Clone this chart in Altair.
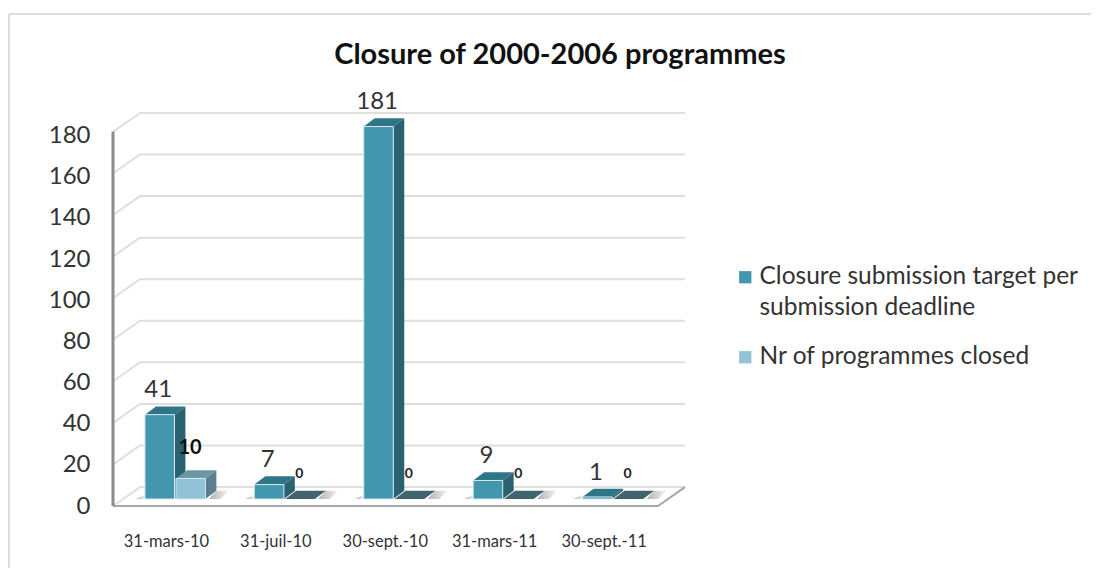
import altair as alt
import pandas as pd

dates = ["31-mars-10", "31-juil-10", "30-sept.-10", "31-mars-11", "30-sept.-11"]
target = [41, 7, 181, 9, 1]
closed = [10, 0, 0, 0, 0]
series_names = ["Closure submission target per submission deadline", "Nr of programmes closed"]
y_ticks = list(range(0, 181, 20))

XD = [-0.484, 4.744]
YD = [0, 190]
BASE = 3.4          # floor height of bar feet
DX, DY = 0.1, 4.0   # depth vector of a bar
BW = 0.27
STARTS = [-0.192, 0.091]
FONT = "Lato"

x_scale = alt.Scale(domain=XD, nice=False, zero=False)
y_scale = alt.Scale(domain=YD, nice=False, zero=False)
X = alt.X("x:Q", scale=x_scale, title=None, axis=alt.Axis(
    values=list(range(len(dates))),
    labelExpr="['" + "','".join(dates) + "'][datum.value]",
    labelFont=FONT, labelFontSize=16.5, labelColor="#333", labelPadding=27,
    ticks=False, domain=False, grid=False))
Y = alt.Y("y:Q", scale=y_scale, title=None, axis=alt.Axis(
    values=y_ticks, labelFont=FONT, labelFontSize=24, labelColor="#333",
    labelPadding=23, ticks=False, domain=False, grid=False))

# walls and floor
GB, GK = 9.2, 1.01
gx0, gx1, gx2 = XD[0], XD[0] + 0.247, XD[1]
grid_rows = []
for v in y_ticks:
    yf = v * GK
    grid_rows += [
        dict(g=v, o=0, x=gx0, y=yf), dict(g=v, o=1, x=gx1, y=yf + GB), dict(g=v, o=2, x=gx2, y=yf + GB)]
grid = alt.Chart(pd.DataFrame(grid_rows)).mark_line(color="#dfdfdf", strokeWidth=2, clip=False).encode(
    x=X, y=Y, detail="g:N", order="o:Q")

floor = pd.DataFrame([
    dict(o=0, x=gx0, y=0), dict(o=1, x=gx2 - 0.247, y=0), dict(o=2, x=gx2, y=GB)])
floor_line = alt.Chart(floor).mark_line(color="#a6a6a6", strokeWidth=2).encode(x=X, y=Y, order="o:Q")
wall = pd.DataFrame([dict(o=0, x=gx0, y=0), dict(o=1, x=gx0, y=182)])
wall_line = alt.Chart(wall).mark_line(color="#8c8c8c", strokeWidth=3).encode(x=X, y=Y, order="o:Q")

# a slanted floor-parallel face: lower edge xa..xb at height ya, shifted back by (dx, dy)
def slanted(b, xa, xb, ya, dx, dy):
    return [dict(b=b, x=xa, y=ya, y2=ya),
            dict(b=b, x=xa + dx, y=ya + dy, y2=ya),
            dict(b=b, x=xb, y=ya + dy, y2=ya),
            dict(b=b, x=xb + dx, y=ya + dy, y2=ya + dy)]

def bars(values, k):
    return [(i, i + STARTS[k], v) for i, v in enumerate(values)]

def side_df(values, k):
    rows = []
    for i, x0, v in bars(values, k):
        if v == 0:
            continue
        x1 = x0 + BW
        rows += [dict(b=i, x=x1, y=BASE + v, y2=BASE),
                 dict(b=i, x=x1 + DX, y=BASE + v + DY, y2=BASE + DY)]
    return pd.DataFrame(rows)

def top_df(values, k, zero=False):
    rows = []
    for i, x0, v in bars(values, k):
        if (v == 0) != zero:
            continue
        rows += slanted(i, x0, x0 + BW, BASE + v, DX, DY)
    return pd.DataFrame(rows)

def front_df(values, k):
    return pd.DataFrame([
        dict(x=x0, x2=x0 + BW, y=BASE + v, y2=BASE, series=series_names[k])
        for i, x0, v in bars(values, k) if v > 0])

def face_layer(df, c):
    return alt.Chart(df).mark_area(color=c, orient="vertical", opacity=1).encode(
        x=X, y=Y, y2="y2:Q", detail="b:N")

fill_domain = series_names
fill_range = ["#4297AF", "#92C3D6"]
def front_layer(values, k):
    return alt.Chart(front_df(values, k)).mark_rect(stroke="#d5e8ee", strokeWidth=1).encode(
        x=X, x2="x2:Q", y=Y, y2="y2:Q",
        color=alt.Color("series:N", scale=alt.Scale(domain=fill_domain, range=fill_range),
            legend=alt.Legend(title=None, orient="none", legendX=620, legendY=150,
                symbolType="square", symbolSize=150, symbolStrokeWidth=0, symbolOpacity=1,
                labelFont=FONT, labelFontSize=24.5, labelColor="#333", labelLimit=400,
                labelOffset=2, rowPadding=24, labelBaseline="middle",
                labelExpr="datum.label == '" + series_names[0] +
                          "' ? ['Closure submission target per', 'submission deadline'] : datum.label")))

# floor shadows
shadow_rows = []
for i in range(len(dates)):
    xa = i + STARTS[1] + BW + 0.03
    shadow_rows += slanted(f"r{i}", xa, xa + 0.11, BASE, 0.07, DY)
    xl = i + STARTS[0]
    shadow_rows += [dict(b=f"l{i}", x=xl - 0.08, y=BASE, y2=BASE),
                    dict(b=f"l{i}", x=xl, y=BASE + 2.2, y2=BASE)]
shadow = alt.Chart(pd.DataFrame(shadow_rows)).mark_area(
    orient="vertical", color=alt.Gradient(gradient="linear", x1=0, x2=1, y1=0, y2=0, stops=[
        alt.GradientStop(offset=0, color="#b0b0b0"), alt.GradientStop(offset=1, color="#f2f2f2")])
).encode(x=X, y=Y, y2="y2:Q", detail="b:N")

# value labels
big = pd.DataFrame([dict(x=i - 0.07, y=BASE + v + (11.8 if v > 1 else 11.5), t=str(v))
                    for i, v in enumerate(target)])
big_text = alt.Chart(big).mark_text(font=FONT, fontSize=24, color="#333").encode(x=X, y=Y, text="t:N")
small = pd.DataFrame([dict(x=i + 0.22, y=BASE + v + 12.2, t=str(v))
                      for i, v in enumerate(closed) if v == 0])
small_text = alt.Chart(small).mark_text(font=FONT, fontSize=14, fontWeight="bold", color="#222").encode(
    x=X, y=Y, text="t:N")
ten = pd.DataFrame([dict(x=i + 0.22, y=BASE + v + 15, t=str(v)) for i, v in enumerate(closed) if v > 0])
ten_text = alt.Chart(ten).mark_text(font=FONT, fontSize=20, fontWeight="bold", color="#111").encode(
    x=X, y=Y, text="t:N")

# outer frame of the original picture
frame_top = alt.Chart(pd.DataFrame({"k": [0]})).mark_rule(color="#dcdcdc", strokeWidth=2).encode(
    x=alt.value(-104), x2=alt.value(986), y=alt.value(-101))
frame_left = alt.Chart(pd.DataFrame({"k": [0]})).mark_rule(color="#dcdcdc", strokeWidth=2).encode(
    x=alt.value(-104), y=alt.value(-101), y2=alt.value(460))

chart = alt.layer(
    grid, floor_line, wall_line, shadow,
    face_layer(side_df(target, 0), "#2A6272"), face_layer(top_df(target, 0), "#2E7587"), front_layer(target, 0),
    face_layer(side_df(closed, 1), "#5A808F"), face_layer(top_df(closed, 1), "#6B97A5"),
    face_layer(top_df(closed, 1, zero=True), "#41636E"), front_layer(closed, 1),
    big_text, small_text, ten_text, frame_top, frame_left,
).properties(
    width=572, height=391,
    padding={"left": 105, "top": 107, "right": 406, "bottom": 62},
    autosize=alt.AutoSizeParams(type="none"),
    title=alt.TitleParams("Closure of 2000-2006 programmes", anchor="middle", frame="group", dx=161, dy=99,
                          offset=42, font=FONT, fontSize=29, fontWeight="bold", color="#111"),
).configure(view=alt.ViewConfig(stroke=None), style={"guide-label": {"lineHeight": 31}})

chart.save("out.html", embed_options={"renderer": "svg", "actions": False})
